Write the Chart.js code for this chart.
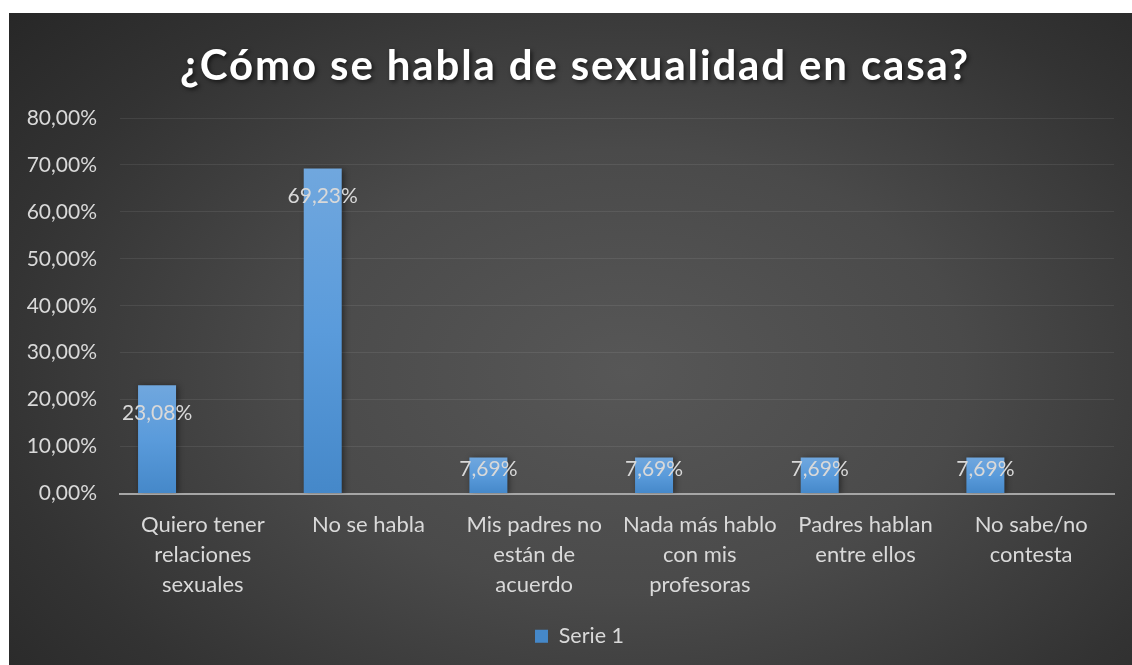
<!DOCTYPE html>
<html>
<head>
<meta charset="utf-8">
<script src="https://cdn.jsdelivr.net/npm/chart.js@4/dist/chart.umd.min.js"></script>
<style>
  html, body { margin:0; padding:0; background:#fff; }
  #wrap {
    position:absolute; left:9px; top:13px; width:1123px; height:652px;
    background: radial-gradient(ellipse 75% 85% at 55% 55%, #575757 0%, #4a4a4a 40%, #333333 75%, #262626 100%);
  }
</style>
</head>
<body>
<div id="wrap"><canvas id="myChart" width="1123" height="652"></canvas></div>
<script>
var title = "¿Cómo se habla de sexualidad en casa?"
var categories = [
  ["Quiero tener", "relaciones", "sexuales"],
  ["No se habla"],
  ["Mis padres no", "están de", "acuerdo"],
  ["Nada más hablo", "con mis", "profesoras"],
  ["Padres hablan", "entre ellos"],
  ["No sabe/no", "contesta"]
]
var serie1 = [23.08, 69.23, 7.69, 7.69, 7.69, 7.69]
var yTicks = [0, 10, 20, 30, 40, 50, 60, 70, 80]

var textColor = "#d9d9d9"
var fontName = "Lato, 'Open Sans', sans-serif"

function pct(v){
  return v.toFixed(2).replace(".", ",") + "%"
}

// gradient per bar, lighter on top
function barFill(ctx){
  var chart = ctx.chart
  if(!chart.chartArea || ctx.raw == null) return "#5b9bd5"
  var y = chart.scales.y
  var top = y.getPixelForValue(ctx.raw), bot = y.getPixelForValue(0)
  var g = chart.ctx.createLinearGradient(0, top, 0, bot)
  g.addColorStop(0, "#70a7de")
  g.addColorStop(0.5, "#5a9bdb")
  g.addColorStop(1, "#4588c9")
  return g
}

var titlePlugin = {
  id: "bigTitle",
  afterDraw: function(chart){
    var c = chart.ctx
    c.save()
    c.font = "bold 42px " + fontName
    c.fillStyle = "#ffffff"
    c.textAlign = "left"
    c.textBaseline = "middle"
    c.letterSpacing = "0px"
    var w = c.measureText(title).width
    var sp = Math.max(0, (788 - w) / (title.length - 1))
    c.letterSpacing = sp + "px"
    var total = w + sp * (title.length - 1)
    c.shadowColor = "rgba(0,0,0,0.6)"
    c.shadowBlur = 4
    c.shadowOffsetX = 2
    c.shadowOffsetY = 2
    c.fillText(title, 565 - total / 2, 53)
    c.restore()
  }
}

// legend sits a bit right of the canvas centre in the original
var legendShift = {
  id: "legendShift",
  afterLayout: function(chart){
    chart.legend.left += 18
    chart.legend.right += 18
  }
}

var shadowPlugin = {
  id: "barShadow",
  beforeDatasetsDraw: function(chart){
    var c = chart.ctx
    c.save()
    c.shadowColor = "rgba(0,0,0,0.45)"
    c.shadowBlur = 6
    c.shadowOffsetX = 2
    c.shadowOffsetY = 1
  },
  afterDatasetsDraw: function(chart){
    chart.ctx.restore()
  }
}

var labelPlugin = {
  id: "barLabels",
  afterDatasetsDraw: function(chart){
    var c = chart.ctx
    var meta = chart.getDatasetMeta(0)
    var base = chart.scales.y.getPixelForValue(0)
    c.save()
    c.font = "21px " + fontName
    c.fillStyle = textColor
    c.textAlign = "center"
    c.textBaseline = "middle"
    meta.data.forEach(function(bar, i){
      var y = Math.min(bar.y + 28, base - 24)
      c.fillText(pct(serie1[i]), bar.x, y)
    })
    c.restore()
  }
}

var myChart = document.getElementById("myChart").getContext("2d")

var chart = new Chart(myChart, {
  type: "bar",
  data: {
    labels: categories,
    datasets: [
      { label: "Serie 1", data: serie1, backgroundColor: barFill },
      { label: "Serie 2", data: serie1.map(function(){ return null }), backgroundColor: "#a5a5a5" },
      { label: "Serie 3", data: serie1.map(function(){ return null }), backgroundColor: "#ffc000" }
    ]
  },
  options: {
    responsive: false,
    animation: false,
    layout: { padding: { top: 105, left: 0, right: 18, bottom: 8 } },
    datasets: { bar: { categoryPercentage: 0.829, barPercentage: 0.83 } },
    plugins: {
      title: { display: false },
      tooltip: { enabled: false },
      legend: {
        position: "bottom",
        labels: {
          color: textColor,
          font: { family: fontName, size: 21.5, lineHeight: "22.8px" },
          boxWidth: 13,
          boxHeight: 13,
          padding: 10,
          filter: function(item){ return item.datasetIndex === 0 }
        }
      }
    },
    scales: {
      x: {
        grid: { display: false, drawTicks: false },
        border: { display: true, color: "#a6a6a6", width: 2 },
        ticks: {
          color: textColor,
          font: { family: fontName, size: 22, lineHeight: "30px" },
          padding: 16,
          maxRotation: 0,
          autoSkip: false
        },
        afterFit: function(scale){ scale.height = 122 }
      },
      y: {
        min: 0,
        max: 80,
        afterBuildTicks: function(scale){
          scale.ticks = yTicks.map(function(v){ return { value: v } })
        },
        grid: { color: "rgba(255,255,255,0.08)", lineWidth: 1, drawTicks: false },
        border: { display: false },
        ticks: {
          color: textColor,
          font: { family: fontName, size: 21 },
          padding: 23,
          callback: function(v){ return pct(v) }
        },
        afterFit: function(scale){ scale.width = 111 }
      }
    }
  },
  plugins: [titlePlugin, legendShift, shadowPlugin, labelPlugin]
})
</script>
</body>
</html>
